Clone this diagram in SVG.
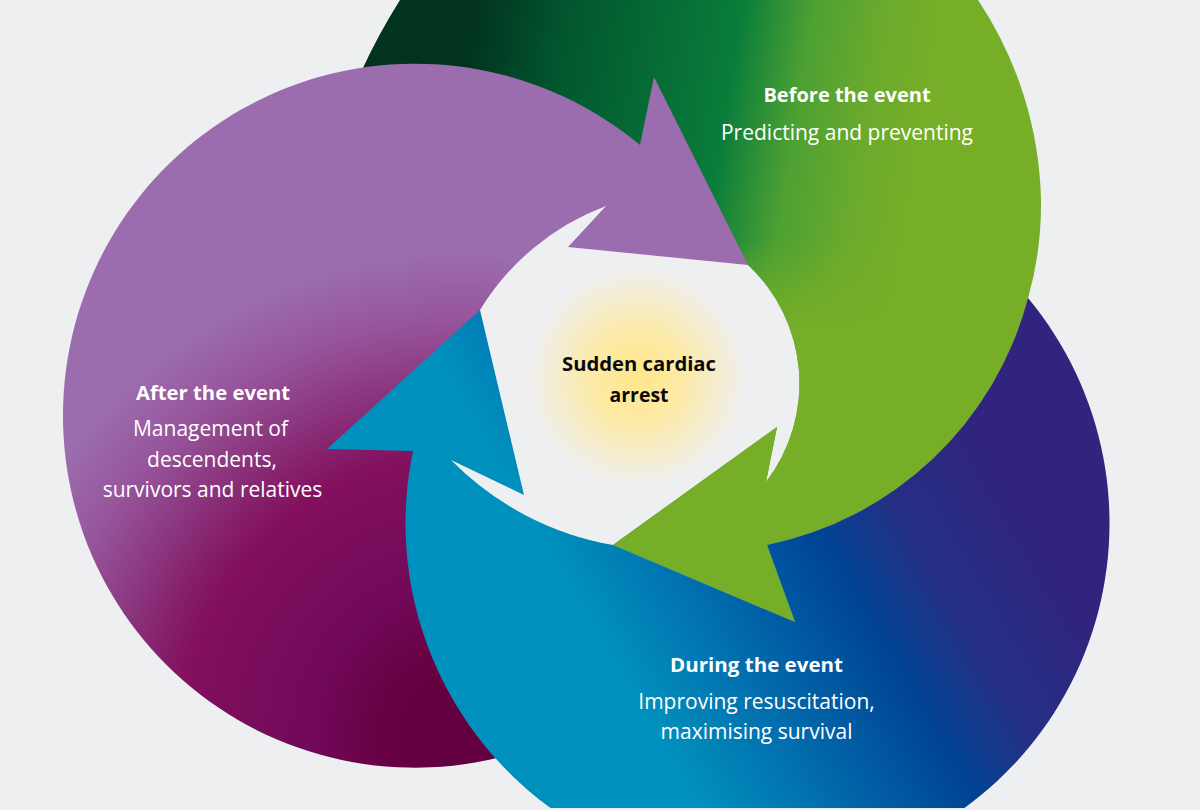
<svg xmlns="http://www.w3.org/2000/svg" width="1200" height="810" viewBox="0 0 1200 810">
<style>
.t{font-family:"Open Sans","Noto Sans","Liberation Sans",sans-serif;font-size:21px;fill:#fff;text-anchor:middle}
.b{font-weight:700;font-size:20px}
.k{fill:#0a0a0a}
</style>
<defs>
<linearGradient id="gG" gradientUnits="userSpaceOnUse" x1="446" y1="0" x2="930" y2="77">
<stop offset=".06" stop-color="#01331f"/><stop offset=".24" stop-color="#01552e"/><stop offset=".6" stop-color="#0a7d3a"/><stop offset=".74" stop-color="#4ca033"/><stop offset=".88" stop-color="#6aaa2d"/><stop offset="1" stop-color="#76ae27"/>
</linearGradient>
<linearGradient id="gL" gradientUnits="userSpaceOnUse" x1="0" y1="240" x2="0" y2="330">
<stop offset="0" stop-color="#76ae27" stop-opacity="0"/><stop offset="1" stop-color="#76ae27"/>
</linearGradient>
<radialGradient id="gP" gradientUnits="userSpaceOnUse" cx="460" cy="735" r="480">
<stop offset="0" stop-color="#640040"/><stop offset=".146" stop-color="#660040"/><stop offset=".31" stop-color="#72085a"/><stop offset=".58" stop-color="#82105e"/><stop offset=".65" stop-color="#86206c"/><stop offset=".75" stop-color="#8c3a82"/><stop offset=".87" stop-color="#97569c"/><stop offset="1" stop-color="#9b6cae"/>
</radialGradient>
<linearGradient id="gB" gradientUnits="userSpaceOnUse" x1="680" y1="770" x2="1041" y2="560">
<stop offset="0" stop-color="#0090bd"/><stop offset=".224" stop-color="#0272b0"/><stop offset=".57" stop-color="#004494"/><stop offset=".76" stop-color="#243085"/><stop offset="1" stop-color="#30247e"/>
</linearGradient>
<radialGradient id="gY" gradientUnits="userSpaceOnUse" cx="637" cy="377" r="110">
<stop offset="0" stop-color="#ffe68a"/><stop offset=".4" stop-color="#fdeaa5"/><stop offset="1" stop-color="#eeeff1"/>
</radialGradient>
<path id="pG" d="M748,265 A162 162 0 0 1 766,482 L777,427 L613,545 L795,622 L767,545 A340 340 0 0 0 1028,298 A340 340 0 0 0 1041,200 A375 375 0 0 0 978,0 L978,-10 L404,-10 L400,0 Q378,35 362,70 L600,200 Z"/>
</defs>
<rect width="1200" height="810" fill="#eeeff1"/>
<g id="centre-glow"><circle cx="637" cy="377" r="110" fill="url(#gY)"/></g>
<g id="before">
<use href="#pG" fill="url(#gG)"/>
<use href="#pG" fill="url(#gL)"/>
<text class="t b" x="847" y="102">Before the event</text>
<text class="t" x="847" y="140">Predicting and preventing</text>
</g>
<g id="after">
<path fill="url(#gP)" d="M640,145 L654,77 L748,265 L568,247 L606,206 A250 250 0 0 0 480,310 L440,450 L480,600 L520,740 L497,758 A352 352 0 1 1 640,145 Z"/>
<text class="t b" x="213" y="400" textLength="154" lengthAdjust="spacingAndGlyphs">After the event</text>
<text class="t" x="210.500" y="436">Management of</text>
<text class="t" x="212" y="467">descendents,</text>
<text class="t" x="212.500" y="497">survivors and relatives</text>
</g>
<g id="during">
<path fill="url(#gB)" d="M327,449 L480,310 L524,495 L451,460 A300 300 0 0 0 613,545 L795,622 L767,545 A340 340 0 0 0 1028,298 A352 352 0 1 1 413,451 Z"/>
<text class="t b" x="756.500" y="672" textLength="173" lengthAdjust="spacingAndGlyphs">During the event</text>
<text class="t" x="756.500" y="709">Improving resuscitation,</text>
<text class="t" x="756.500" y="739">maximising survival</text>
</g>
<g id="sudden-cardiac-arrest">
<text class="t b k" x="639" y="371" textLength="154" lengthAdjust="spacingAndGlyphs">Sudden cardiac</text>
<text class="t b k" x="639" y="402" textLength="59" lengthAdjust="spacingAndGlyphs">arrest</text>
</g>
<rect x="0" y="808" width="1200" height="2" fill="#eeeff1"/>
</svg>
